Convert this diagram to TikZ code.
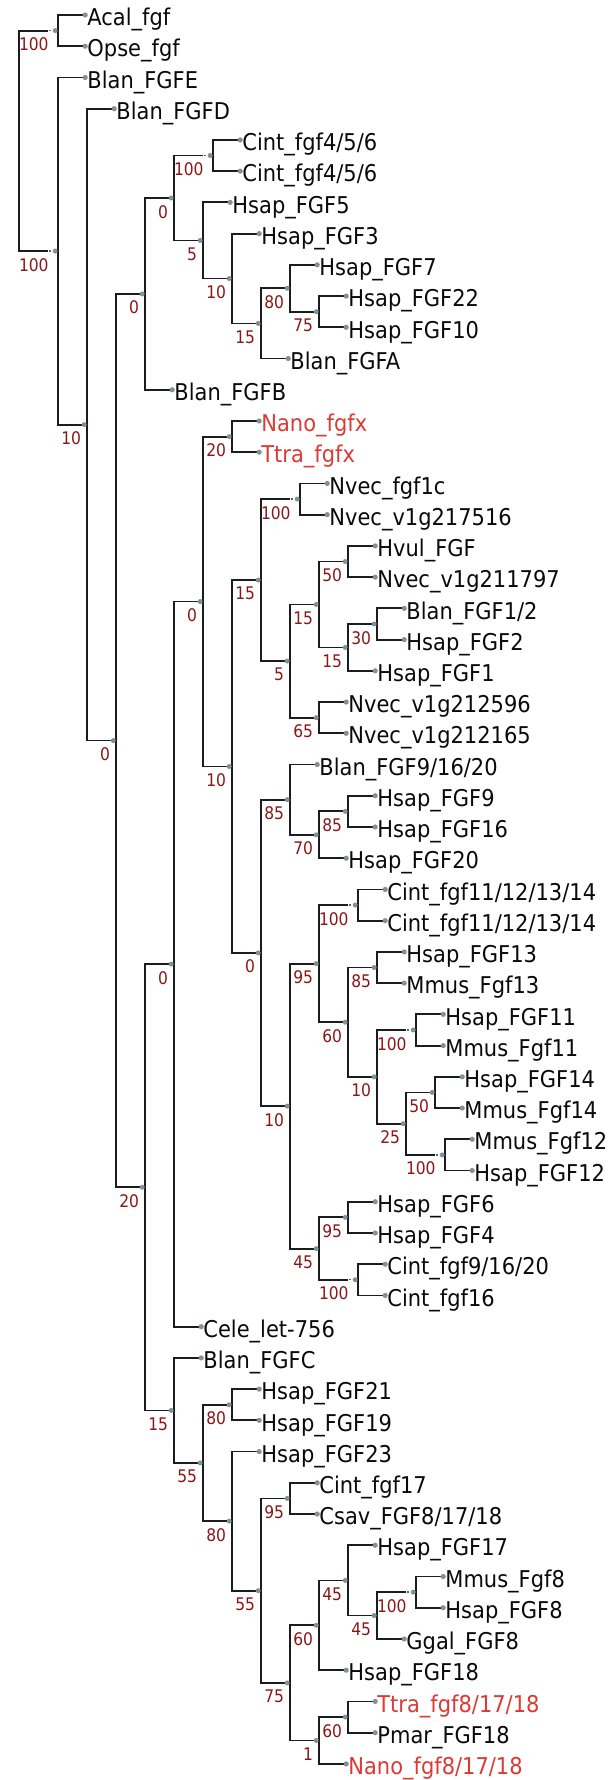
\documentclass[tikz,border=0pt]{standalone}
\usepackage{fontspec}
\setmainfont{DejaVu Sans}
\definecolor{brc}{RGB}{28,28,28}
\definecolor{dotc}{RGB}{128,146,146}
\definecolor{leafc}{RGB}{10,10,10}
\definecolor{redc}{RGB}{222,58,52}
\definecolor{supc}{RGB}{140,22,22}
\newcommand\Yu[1]{15+31.23*(#1)}
\newcommand\defn[3]{\coordinate (#1) at (#2,{\Yu{#3}});}
\newcommand\defl[3]{\coordinate (#1) at ({#2+27.4},{\Yu{#3}});}
\newcommand\hbr[2]{\draw[branch] (#1 |- #2) -- (#2);}
\newcommand\hbc[2]{\draw[branch] (#1 |- #2) -- ([xshift=-11pt]#2);\draw[dotline] ([xshift=-8.5pt]#2) -- ([xshift=-5pt]#2);}
\newcommand\vbr[3]{\draw[branch] (#1 |- #2) -- (#1 |- #3);}
\newcommand\clade[3]{\vbr{#1}{#2}{#3}\hbr{#1}{#2}\hbr{#1}{#3}}
\newcommand\nodedot[1]{\fill[dotc] ([xshift=-2.6pt]#1) circle[radius=2.5pt];}
\newcommand\leafdot[1]{\fill[dotc] (#1) circle[radius=2.6pt];}
\newcommand\suplabel[3]{\node[suplab] (#1-s) at ([xshift=#2,yshift=-7pt]#1) {\scalebox{1}[1.12]{#3}};}
\newcommand\leaftext[3]{\node[leaflab,text=#2] (#1-t) at ([xshift=2pt,yshift=-10.7pt]#1) {\scalebox{1}[1.1]{#3}};}
\begin{document}
\begin{tikzpicture}[x=1pt,y=-1pt,
  branch/.style={draw=brc,line width=1.8pt,line cap=rect},
  dotline/.style={draw=dotc!70!black,line width=1.3pt,dash pattern=on 1.3pt off 2.2pt},
  suplab/.style={anchor=north east,inner sep=0pt,text=supc,font=\fontsize{15.5}{18}\selectfont},
  leaflab/.style={anchor=base west,inner sep=0pt,font=\fontsize{21}{25}\selectfont}]
\fill[white] (0,0) rectangle (613,1780);
\useasboundingbox (0,0) rectangle (613,1780);
% internal nodes
\defn{root}{18.8}{4.029}
\defn{A}{57.8}{0.5}
\defn{B}{57.8}{7.5582}
\defn{C}{86.8}{13.116455}
\defn{D}{115.8}{23.23291}
\defn{E}{144.8}{8.9296875}
\defn{F}{144.8}{37.53613}
\defn{G}{173.8}{5.859375}
\defn{CintA}{212.8}{4.5}
\defn{H}{202.8}{7.21875}
\defn{I}{231.8}{8.4375}
\defn{J}{260.8}{9.875}
\defn{K}{289.8}{8.75}
\defn{L}{318.8}{9.5}
\defn{M}{173.8}{30.390625}
\defn{N}{173.8}{44.68164}
\defn{O}{202.8}{18.78125}
\defn{P}{231.8}{13.5}
\defn{Q}{231.8}{24.0625}
\defn{R}{260.8}{18.09375}
\defn{Nv}{299.8}{15.5}
\defn{T}{289.8}{20.6875}
\defn{U}{318.8}{18.875}
\defn{W}{347.8}{17.5}
\defn{X}{347.8}{20.25}
\defn{Yn}{376.8}{19.5}
\defn{V}{318.8}{22.5}
\defn{S}{260.8}{30.03125}
\defn{Z}{289.8}{25.125}
\defn{AB}{318.8}{26.25}
\defn{AC}{347.8}{25.5}
\defn{AA}{289.8}{34.9375}
\defn{AD}{318.8}{30.375}
\defn{AF}{357.8}{28.5}
\defn{AG}{347.8}{32.25}
\defn{AH}{376.8}{30.5}
\defn{AI}{376.8}{34}
\defn{AJ}{415.8}{32.5}
\defn{AK}{405.8}{35.5}
\defn{AL}{434.8}{34.5}
\defn{AM}{444.8}{36.5}
\defn{AE}{318.8}{39.5}
\defn{AN}{347.8}{38.5}
\defn{AO}{357.8}{40.5}
\defn{AP}{202.8}{46.36328}
\defn{AQ}{231.8}{44.5}
\defn{AR}{231.8}{48.2265625}
\defn{AS}{260.8}{50.453125}
\defn{AT}{289.8}{47.5}
\defn{AU}{289.8}{53.40625}
\defn{AV}{318.8}{51.5625}
\defn{AX}{347.8}{50.125}
\defn{AY}{376.8}{51.25}
\defn{AZ}{415.8}{50.5}
\defn{AW}{318.8}{55.25}
\defn{BA}{347.8}{54.5}
% leaves
\defl{l1}{57.8}{0}
\defl{l2}{57.8}{1}
\defl{l3}{57.8}{2}
\defl{l4}{86.8}{3}
\defl{l5}{212.8}{4}
\defl{l6}{212.8}{5}
\defl{l7}{202.8}{6}
\defl{l8}{231.8}{7}
\defl{l9}{289.8}{8}
\defl{l10}{318.8}{9}
\defl{l11}{318.8}{10}
\defl{l12}{260.8}{11}
\defl{l13}{144.8}{12}
\defl{l14}{231.8}{13}
\defl{l15}{231.8}{14}
\defl{l16}{299.8}{15}
\defl{l17}{299.8}{16}
\defl{l18}{347.8}{17}
\defl{l19}{347.8}{18}
\defl{l20}{376.8}{19}
\defl{l21}{376.8}{20}
\defl{l22}{347.8}{21}
\defl{l23}{318.8}{22}
\defl{l24}{318.8}{23}
\defl{l25}{289.8}{24}
\defl{l26}{347.8}{25}
\defl{l27}{347.8}{26}
\defl{l28}{318.8}{27}
\defl{l29}{357.8}{28}
\defl{l30}{357.8}{29}
\defl{l31}{376.8}{30}
\defl{l32}{376.8}{31}
\defl{l33}{415.8}{32}
\defl{l34}{415.8}{33}
\defl{l35}{434.8}{34}
\defl{l36}{434.8}{35}
\defl{l37}{444.8}{36}
\defl{l38}{444.8}{37}
\defl{l39}{347.8}{38}
\defl{l40}{347.8}{39}
\defl{l41}{357.8}{40}
\defl{l42}{357.8}{41}
\defl{l43}{173.8}{42}
\defl{l44}{173.8}{43}
\defl{l45}{231.8}{44}
\defl{l46}{231.8}{45}
\defl{l47}{231.8}{46}
\defl{l48}{289.8}{47}
\defl{l49}{289.8}{48}
\defl{l50}{347.8}{49}
\defl{l51}{415.8}{50}
\defl{l52}{415.8}{51}
\defl{l53}{376.8}{52}
\defl{l54}{318.8}{53}
\defl{l55}{347.8}{54}
\defl{l56}{347.8}{55}
\defl{l57}{318.8}{56}
% branches
\vbr{root}{A}{B}\hbc{root}{A}\hbc{root}{B}
\clade{A}{l1}{l2}
\vbr{B}{l3}{C}\hbr{B}{l3}\hbr{B}{C}
\vbr{C}{l4}{D}\hbr{C}{l4}\hbr{C}{D}
\clade{D}{E}{F}
\clade{E}{G}{l13}
\vbr{G}{CintA}{H}\hbc{G}{CintA}\hbr{G}{H}
\clade{CintA}{l5}{l6}
\clade{H}{l7}{I}
\clade{I}{l8}{J}
\clade{J}{K}{l12}
\clade{K}{l9}{L}
\clade{L}{l10}{l11}
\clade{F}{M}{N}
\clade{M}{O}{l43}
\clade{O}{P}{Q}
\clade{P}{l14}{l15}
\clade{Q}{R}{S}
\vbr{R}{Nv}{T}\hbc{R}{Nv}\hbr{R}{T}
\clade{Nv}{l16}{l17}
\clade{T}{U}{V}
\clade{U}{W}{X}
\clade{W}{l18}{l19}
\clade{X}{Yn}{l22}
\clade{Yn}{l20}{l21}
\clade{V}{l23}{l24}
\clade{S}{Z}{AA}
\clade{Z}{l25}{AB}
\clade{AB}{AC}{l28}
\clade{AC}{l26}{l27}
\clade{AA}{AD}{AE}
\vbr{AD}{AF}{AG}\hbc{AD}{AF}\hbr{AD}{AG}
\clade{AF}{l29}{l30}
\clade{AG}{AH}{AI}
\clade{AH}{l31}{l32}
\vbr{AI}{AJ}{AK}\hbc{AI}{AJ}\hbr{AI}{AK}
\clade{AJ}{l33}{l34}
\vbr{AK}{AL}{AM}\hbr{AK}{AL}\hbc{AK}{AM}
\clade{AL}{l35}{l36}
\clade{AM}{l37}{l38}
\vbr{AE}{AN}{AO}\hbr{AE}{AN}\hbc{AE}{AO}
\clade{AN}{l39}{l40}
\clade{AO}{l41}{l42}
\clade{N}{l44}{AP}
\clade{AP}{AQ}{AR}
\clade{AQ}{l45}{l46}
\clade{AR}{l47}{AS}
\clade{AS}{AT}{AU}
\clade{AT}{l48}{l49}
\clade{AU}{AV}{AW}
\clade{AV}{AX}{l54}
\clade{AX}{l50}{AY}
\vbr{AY}{AZ}{l53}\hbc{AY}{AZ}\hbr{AY}{l53}
\clade{AZ}{l51}{l52}
\clade{AW}{BA}{l57}
\clade{BA}{l55}{l56}
% node dots
\foreach \n in {A,B,C,D,E,F,G,CintA,H,I,J,K,L,M,N,O,P,Q,R,Nv,T,U,W,X,Yn,V,S,Z,AB,AC,AA,AD,AF,AG,AH,AI,AJ,AK,AL,AM,AE,AN,AO,AP,AQ,AR,AS,AT,AU,AV,AX,AY,AZ,AW,BA}{\nodedot{\n}}
\foreach \i in {1,...,57}{\leafdot{l\i}}
% support values
\suplabel{A}{-9pt}{100}
\suplabel{B}{-9pt}{100}
\suplabel{C}{-5.5pt}{10}
\suplabel{D}{-5.5pt}{0}
\suplabel{E}{-5.5pt}{0}
\suplabel{F}{-5.5pt}{20}
\suplabel{G}{-5.5pt}{0}
\suplabel{CintA}{-9pt}{100}
\suplabel{H}{-5.5pt}{5}
\suplabel{I}{-5.5pt}{10}
\suplabel{J}{-5.5pt}{15}
\suplabel{K}{-5.5pt}{80}
\suplabel{L}{-5.5pt}{75}
\suplabel{M}{-5.5pt}{0}
\suplabel{N}{-5.5pt}{15}
\suplabel{O}{-5.5pt}{0}
\suplabel{P}{-5.5pt}{20}
\suplabel{Q}{-5.5pt}{10}
\suplabel{R}{-5.5pt}{15}
\suplabel{Nv}{-9pt}{100}
\suplabel{T}{-5.5pt}{5}
\suplabel{U}{-5.5pt}{15}
\suplabel{W}{-5.5pt}{50}
\suplabel{X}{-5.5pt}{15}
\suplabel{Yn}{-5.5pt}{30}
\suplabel{V}{-5.5pt}{65}
\suplabel{S}{-5.5pt}{0}
\suplabel{Z}{-5.5pt}{85}
\suplabel{AB}{-5.5pt}{70}
\suplabel{AC}{-5.5pt}{85}
\suplabel{AA}{-5.5pt}{10}
\suplabel{AD}{-5.5pt}{95}
\suplabel{AF}{-9pt}{100}
\suplabel{AG}{-5.5pt}{60}
\suplabel{AH}{-5.5pt}{85}
\suplabel{AI}{-5.5pt}{10}
\suplabel{AJ}{-9pt}{100}
\suplabel{AK}{-5.5pt}{25}
\suplabel{AL}{-5.5pt}{50}
\suplabel{AM}{-9pt}{100}
\suplabel{AE}{-5.5pt}{45}
\suplabel{AN}{-5.5pt}{95}
\suplabel{AO}{-9pt}{100}
\suplabel{AP}{-5.5pt}{55}
\suplabel{AQ}{-5.5pt}{80}
\suplabel{AR}{-5.5pt}{80}
\suplabel{AS}{-5.5pt}{55}
\suplabel{AT}{-5.5pt}{95}
\suplabel{AU}{-5.5pt}{75}
\suplabel{AV}{-5.5pt}{60}
\suplabel{AX}{-5.5pt}{45}
\suplabel{AY}{-5.5pt}{45}
\suplabel{AZ}{-9pt}{100}
\suplabel{AW}{-5.5pt}{1}
\suplabel{BA}{-5.5pt}{60}
% leaf names
\leaftext{l1}{leafc}{Acal\_fgf}
\leaftext{l2}{leafc}{Opse\_fgf}
\leaftext{l3}{leafc}{Blan\_FGFE}
\leaftext{l4}{leafc}{Blan\_FGFD}
\leaftext{l5}{leafc}{Cint\_fgf4/5/6}
\leaftext{l6}{leafc}{Cint\_fgf4/5/6}
\leaftext{l7}{leafc}{Hsap\_FGF5}
\leaftext{l8}{leafc}{Hsap\_FGF3}
\leaftext{l9}{leafc}{Hsap\_FGF7}
\leaftext{l10}{leafc}{Hsap\_FGF22}
\leaftext{l11}{leafc}{Hsap\_FGF10}
\leaftext{l12}{leafc}{Blan\_FGFA}
\leaftext{l13}{leafc}{Blan\_FGFB}
\leaftext{l14}{redc}{Nano\_fgfx}
\leaftext{l15}{redc}{Ttra\_fgfx}
\leaftext{l16}{leafc}{Nvec\_fgf1c}
\leaftext{l17}{leafc}{Nvec\_v1g217516}
\leaftext{l18}{leafc}{Hvul\_FGF}
\leaftext{l19}{leafc}{Nvec\_v1g211797}
\leaftext{l20}{leafc}{Blan\_FGF1/2}
\leaftext{l21}{leafc}{Hsap\_FGF2}
\leaftext{l22}{leafc}{Hsap\_FGF1}
\leaftext{l23}{leafc}{Nvec\_v1g212596}
\leaftext{l24}{leafc}{Nvec\_v1g212165}
\leaftext{l25}{leafc}{Blan\_FGF9/16/20}
\leaftext{l26}{leafc}{Hsap\_FGF9}
\leaftext{l27}{leafc}{Hsap\_FGF16}
\leaftext{l28}{leafc}{Hsap\_FGF20}
\leaftext{l29}{leafc}{Cint\_fgf11/12/13/14}
\leaftext{l30}{leafc}{Cint\_fgf11/12/13/14}
\leaftext{l31}{leafc}{Hsap\_FGF13}
\leaftext{l32}{leafc}{Mmus\_Fgf13}
\leaftext{l33}{leafc}{Hsap\_FGF11}
\leaftext{l34}{leafc}{Mmus\_Fgf11}
\leaftext{l35}{leafc}{Hsap\_FGF14}
\leaftext{l36}{leafc}{Mmus\_Fgf14}
\leaftext{l37}{leafc}{Mmus\_Fgf12}
\leaftext{l38}{leafc}{Hsap\_FGF12}
\leaftext{l39}{leafc}{Hsap\_FGF6}
\leaftext{l40}{leafc}{Hsap\_FGF4}
\leaftext{l41}{leafc}{Cint\_fgf9/16/20}
\leaftext{l42}{leafc}{Cint\_fgf16}
\leaftext{l43}{leafc}{Cele\_let-756}
\leaftext{l44}{leafc}{Blan\_FGFC}
\leaftext{l45}{leafc}{Hsap\_FGF21}
\leaftext{l46}{leafc}{Hsap\_FGF19}
\leaftext{l47}{leafc}{Hsap\_FGF23}
\leaftext{l48}{leafc}{Cint\_fgf17}
\leaftext{l49}{leafc}{Csav\_FGF8/17/18}
\leaftext{l50}{leafc}{Hsap\_FGF17}
\leaftext{l51}{leafc}{Mmus\_Fgf8}
\leaftext{l52}{leafc}{Hsap\_FGF8}
\leaftext{l53}{leafc}{Ggal\_FGF8}
\leaftext{l54}{leafc}{Hsap\_FGF18}
\leaftext{l55}{redc}{Ttra\_fgf8/17/18}
\leaftext{l56}{leafc}{Pmar\_FGF18}
\leaftext{l57}{redc}{Nano\_fgf8/17/18}
\end{tikzpicture}
\end{document}
